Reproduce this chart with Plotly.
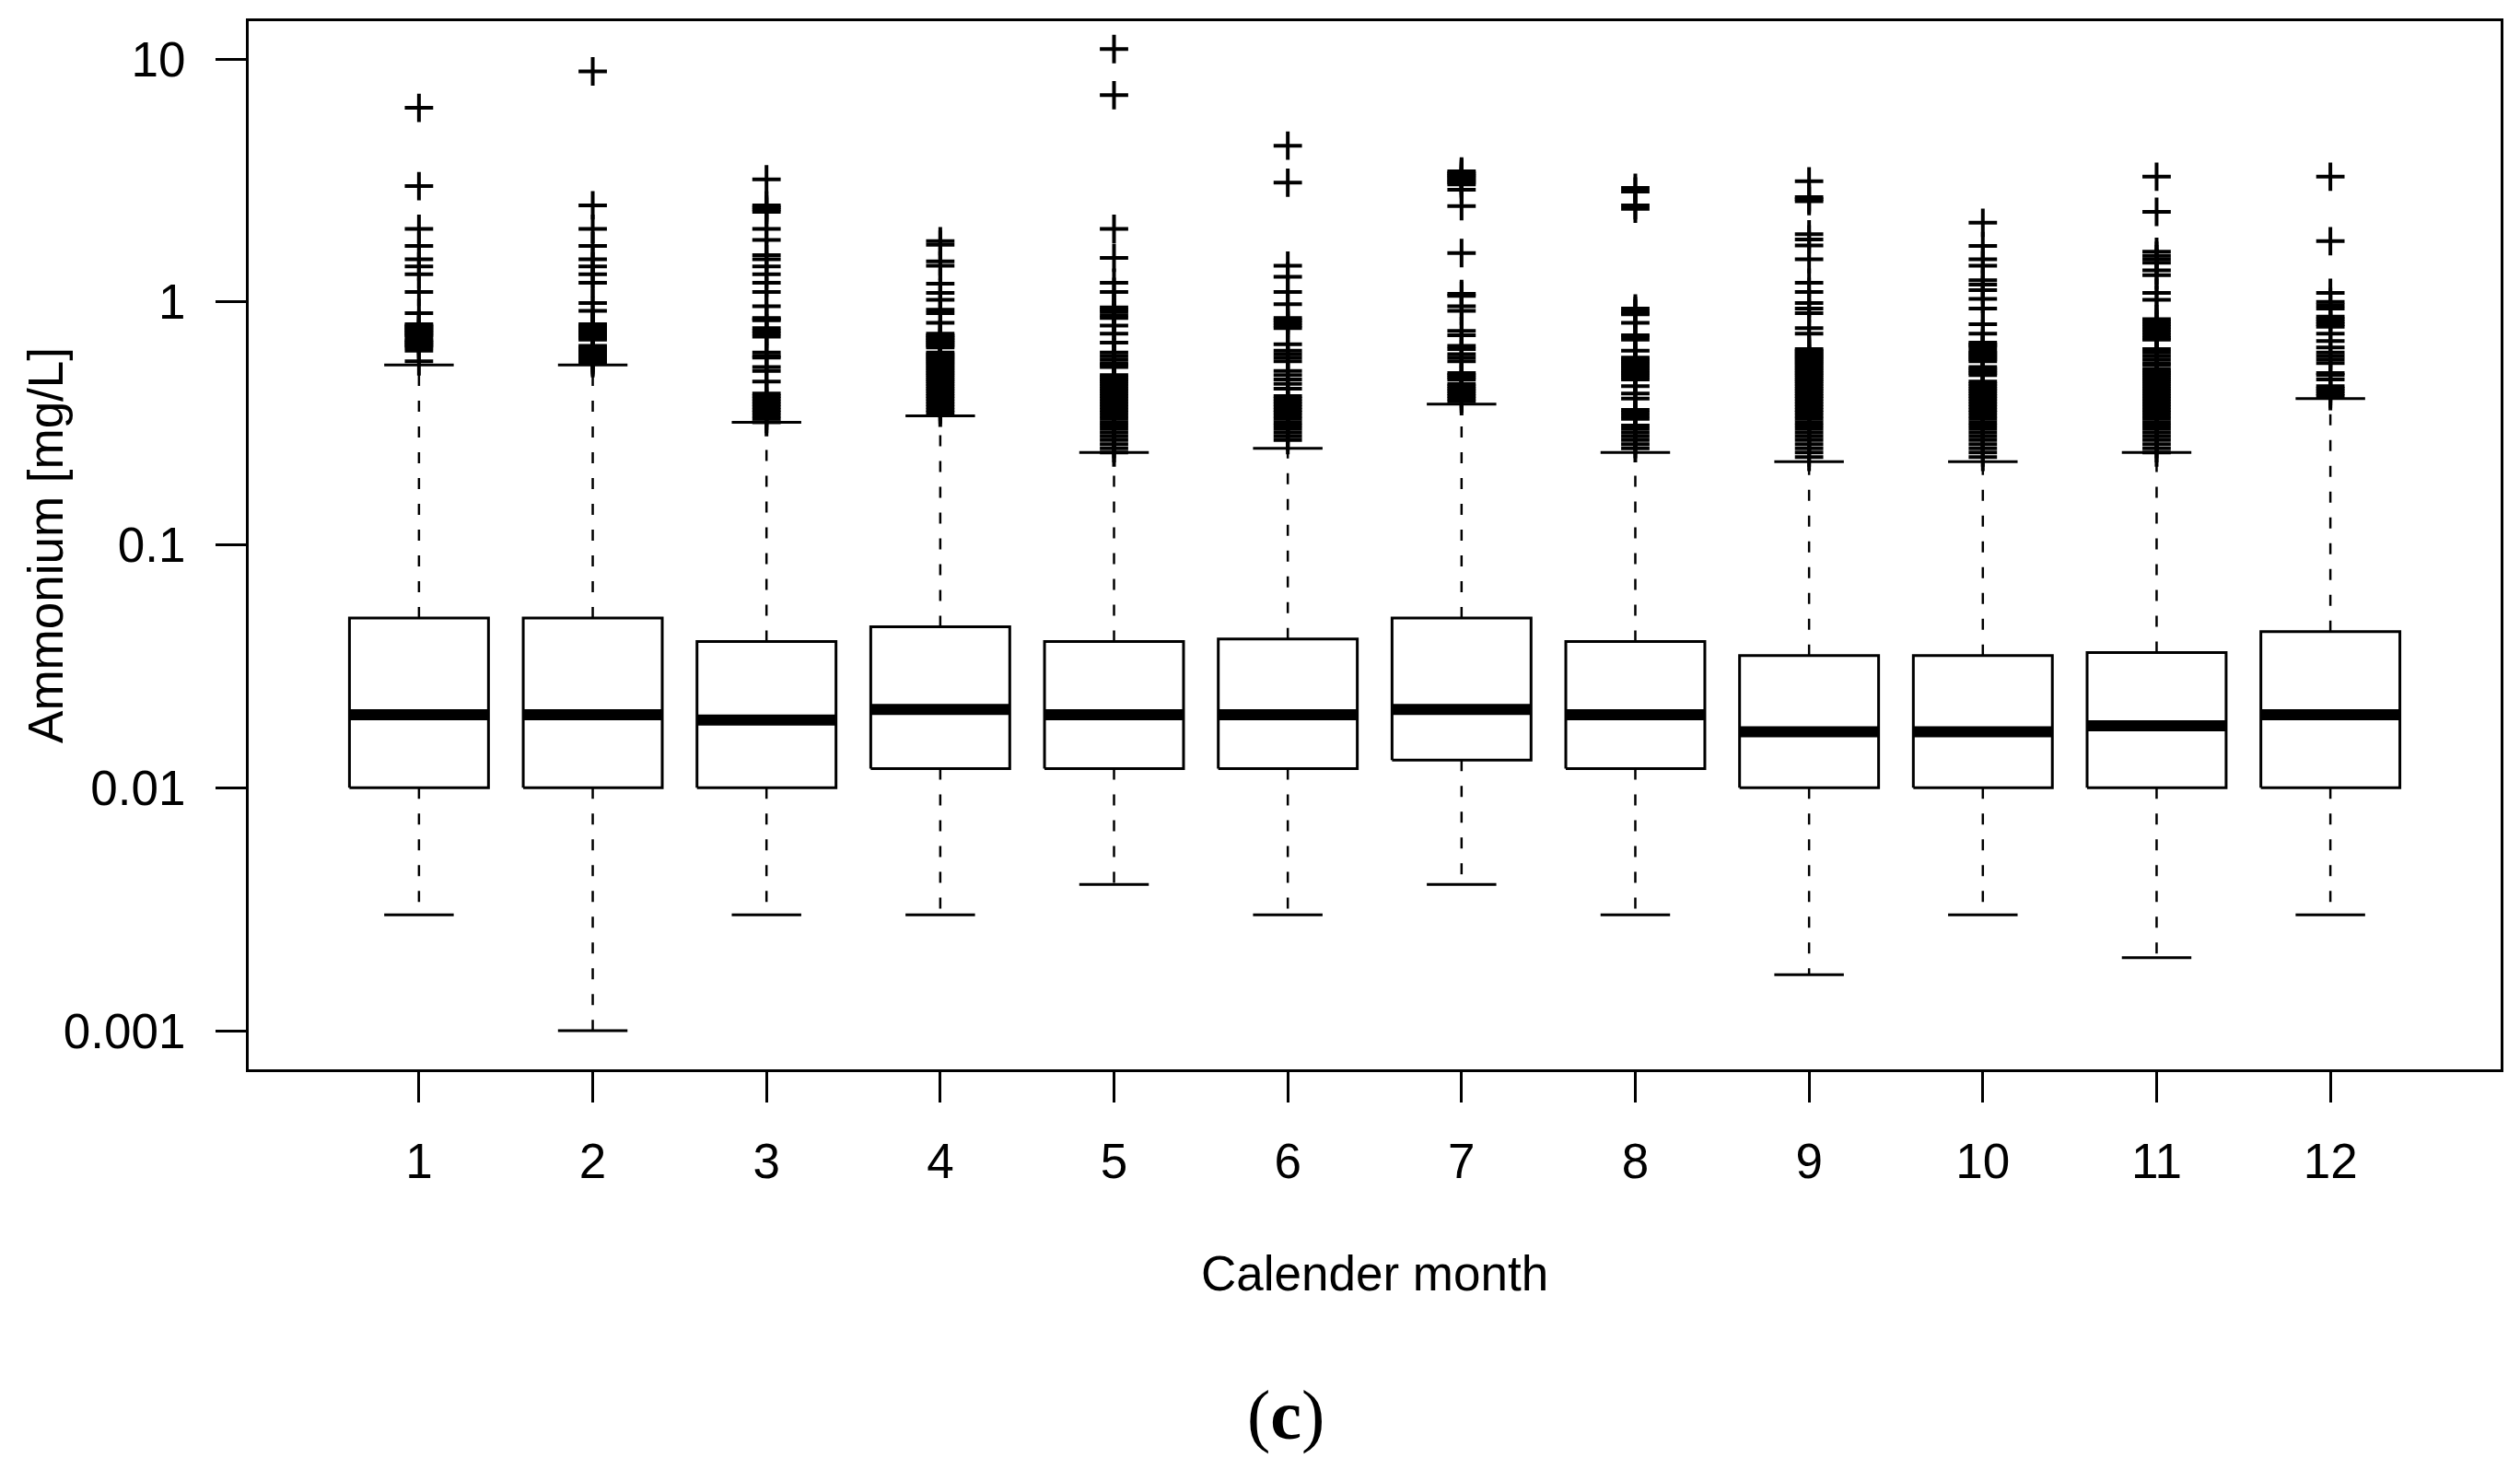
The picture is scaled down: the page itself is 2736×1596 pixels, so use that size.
import plotly.graph_objects as go

# monthly box statistics (mg/L)
months = [1, 2, 3, 4, 5, 6, 7, 8, 9, 10, 11, 12]
q1 = [0.01, 0.01, 0.01, 0.012, 0.012, 0.012, 0.013, 0.012, 0.01, 0.01, 0.01, 0.01]
medians = [0.02, 0.02, 0.019, 0.021, 0.02, 0.02, 0.021, 0.02, 0.017, 0.017, 0.018, 0.02]
q3 = [0.05, 0.05, 0.04, 0.046, 0.04, 0.041, 0.05, 0.04, 0.035, 0.035, 0.036, 0.044]
lower_whisker = [0.003, 0.001, 0.003, 0.003, 0.004, 0.003, 0.004, 0.003, 0.0017, 0.003, 0.002, 0.003]
upper_whisker = [0.55, 0.55, 0.32, 0.34, 0.24, 0.25, 0.38, 0.24, 0.22, 0.22, 0.24, 0.40]

# outliers per month
out_m1 = [6.3, 3.0, 2.0, 1.7, 1.5, 1.4, 1.3, 1.1, 0.9, 0.81, 0.8, 0.79, 0.78, 0.77, 0.76, 0.75,
          0.74, 0.73, 0.72, 0.7, 0.69, 0.68, 0.67, 0.66, 0.65, 0.63, 0.57]
out_m2 = [8.9, 2.5, 2.0, 1.7, 1.5, 1.4, 1.3, 1.2, 0.99, 0.92, 0.81, 0.8, 0.79, 0.78, 0.77, 0.76,
          0.75, 0.74, 0.73, 0.72, 0.71, 0.7, 0.66, 0.65, 0.64, 0.63, 0.62, 0.61, 0.6, 0.59, 0.58,
          0.57, 0.56]
out_m3 = [3.2, 2.5, 2.45, 2.4, 2.35, 2.0, 1.8, 1.56, 1.5, 1.4, 1.3, 1.2, 1.1, 0.96, 0.86, 0.85,
          0.84, 0.78, 0.76, 0.74, 0.72, 0.62, 0.6, 0.59, 0.54, 0.52, 0.47, 0.42, 0.41, 0.4, 0.39,
          0.38, 0.37, 0.36, 0.35, 0.34, 0.33, 0.32]
out_m4 = [1.78, 1.72, 1.47, 1.41, 1.19, 1.09, 1.02, 0.93, 0.9, 0.82, 0.74, 0.73, 0.72, 0.71, 0.7,
          0.69, 0.68, 0.67, 0.66, 0.65, 0.62, 0.61, 0.6, 0.59, 0.58, 0.57, 0.56, 0.55, 0.54, 0.53,
          0.52, 0.51, 0.5, 0.49, 0.48, 0.47, 0.46, 0.45, 0.44, 0.43, 0.42, 0.41, 0.4, 0.39, 0.38,
          0.37, 0.36, 0.35]
out_m5 = [11.0, 7.1, 2.0, 1.52, 1.2, 1.1, 0.95, 0.93, 0.91, 0.88, 0.86, 0.8, 0.74, 0.68, 0.62,
          0.6, 0.58, 0.56, 0.55, 0.54, 0.5, 0.49, 0.48, 0.47, 0.46, 0.45, 0.44, 0.43, 0.42, 0.41,
          0.4, 0.39, 0.38, 0.37, 0.36, 0.35, 0.34, 0.33, 0.32, 0.31, 0.3, 0.29, 0.28, 0.27, 0.26,
          0.25, 0.24]
out_m6 = [4.4, 3.1, 1.41, 1.27, 1.1, 0.98, 0.86, 0.84, 0.82, 0.8, 0.78, 0.67, 0.63, 0.61, 0.59,
          0.57, 0.52, 0.5, 0.48, 0.46, 0.44, 0.41, 0.4, 0.39, 0.38, 0.37, 0.36, 0.35, 0.34, 0.33,
          0.32, 0.31, 0.3, 0.29, 0.28, 0.27]
out_m7 = [3.45, 3.4, 3.35, 3.3, 3.25, 3.2, 3.15, 3.1, 3.05, 2.9, 2.48, 1.59, 1.08, 1.06, 0.96,
          0.92, 0.76, 0.73, 0.66, 0.64, 0.61, 0.59, 0.57, 0.51, 0.5, 0.49, 0.48, 0.46, 0.45, 0.44,
          0.43, 0.42, 0.41, 0.4, 0.39]
out_m8 = [2.95, 2.85, 2.5, 2.42, 0.94, 0.92, 0.9, 0.89, 0.82, 0.73, 0.72, 0.7, 0.63, 0.59, 0.58,
          0.57, 0.56, 0.55, 0.54, 0.53, 0.52, 0.51, 0.5, 0.49, 0.48, 0.45, 0.42, 0.4, 0.36, 0.35,
          0.34, 0.33, 0.31, 0.3, 0.29, 0.28, 0.27, 0.26, 0.25]
out_m9 = [3.14, 2.7, 2.65, 2.6, 1.9, 1.81, 1.71, 1.5, 1.2, 1.1, 0.99, 0.94, 0.9, 0.78, 0.74, 0.64,
          0.63, 0.62, 0.61, 0.6, 0.59, 0.58, 0.57, 0.56, 0.55, 0.54, 0.53, 0.52, 0.51, 0.5, 0.49,
          0.48, 0.47, 0.46, 0.45, 0.44, 0.43, 0.42, 0.41, 0.4, 0.39, 0.38, 0.37, 0.36, 0.35, 0.34,
          0.33, 0.32, 0.31, 0.3, 0.29, 0.28, 0.27, 0.26, 0.25, 0.24, 0.23]
out_m10 = [2.12, 1.7, 1.5, 1.41, 1.23, 1.18, 1.12, 1.03, 0.94, 0.81, 0.74, 0.68, 0.67, 0.66, 0.65,
           0.63, 0.62, 0.61, 0.6, 0.59, 0.58, 0.57, 0.54, 0.53, 0.52, 0.51, 0.5, 0.47, 0.46, 0.45,
           0.44, 0.43, 0.42, 0.41, 0.4, 0.39, 0.38, 0.37, 0.36, 0.35, 0.34, 0.33, 0.32, 0.31, 0.3,
           0.29, 0.28, 0.27, 0.26, 0.25, 0.24, 0.23]
out_m11 = [3.28, 2.35, 1.61, 1.55, 1.5, 1.45, 1.35, 1.29, 1.09, 1.02, 0.85, 0.83, 0.81, 0.79, 0.77,
           0.75, 0.73, 0.71, 0.7, 0.64, 0.62, 0.6, 0.58, 0.56, 0.55, 0.53, 0.52, 0.51, 0.5, 0.49,
           0.48, 0.47, 0.46, 0.45, 0.44, 0.43, 0.42, 0.41, 0.4, 0.39, 0.38, 0.37, 0.36, 0.35, 0.34,
           0.33, 0.32, 0.31, 0.3, 0.29, 0.28, 0.27, 0.26, 0.25, 0.24]
out_m12 = [3.28, 1.78, 1.09, 1.0, 0.97, 0.94, 0.87, 0.85, 0.83, 0.81, 0.79, 0.74, 0.69, 0.65, 0.62,
           0.6, 0.58, 0.56, 0.51, 0.5, 0.48, 0.45, 0.44, 0.43, 0.42, 0.41]
outliers = [out_m1, out_m2, out_m3, out_m4, out_m5, out_m6,
            out_m7, out_m8, out_m9, out_m10, out_m11, out_m12]

y_tickvals = [0.001, 0.01, 0.1, 1, 10]
y_ticktext = ["0.001", "0.01", "0.1", "1", "10"]

BOX_HALF = 0.4
CAP_HALF = 0.2
FONT = "Liberation Sans, Arial, sans-serif"
FS = 53


def segs(items):
    xs, ys = [], []
    for x0, y0, x1, y1 in items:
        xs += [x0, x1, None]
        ys += [y0, y1, None]
    return xs, ys


fig = go.Figure()

# dashed whiskers
wx, wy = segs([(m, a, m, b) for m, a, b in zip(months, q3, upper_whisker)] +
              [(m, a, m, b) for m, a, b in zip(months, q1, lower_whisker)])
fig.add_trace(go.Scatter(x=wx, y=wy, mode="lines",
                         line=dict(color="black", width=2.5, dash="12px,16px")))

# whisker caps
cx, cy = segs([(m - CAP_HALF, v, m + CAP_HALF, v) for m, v in zip(months, upper_whisker)] +
              [(m - CAP_HALF, v, m + CAP_HALF, v) for m, v in zip(months, lower_whisker)])
fig.add_trace(go.Scatter(x=cx, y=cy, mode="lines", line=dict(color="black", width=3)))

# boxes
bx, by = [], []
for m, lo, hi in zip(months, q1, q3):
    bx += [m - BOX_HALF, m + BOX_HALF, m + BOX_HALF, m - BOX_HALF, m - BOX_HALF, None]
    by += [lo, lo, hi, hi, lo, None]
fig.add_trace(go.Scatter(x=bx, y=by, mode="lines", fill="toself", fillcolor="white",
                         line=dict(color="black", width=3)))

# medians
mx, my = segs([(m - BOX_HALF, v, m + BOX_HALF, v) for m, v in zip(months, medians)])
fig.add_trace(go.Scatter(x=mx, y=my, mode="lines", line=dict(color="black", width=12)))

# outliers
ox, oy = [], []
for m, vals in zip(months, outliers):
    ox += [m] * len(vals)
    oy += vals
fig.add_trace(go.Scatter(x=ox, y=oy, mode="markers",
                         marker=dict(symbol="cross-thin", size=22, color="black",
                                     line=dict(color="black", width=4))))

# page body adds an 8px offset, so the figure is trimmed by that much
fig.update_layout(
    width=2728, height=1588,
    margin=dict(l=262, r=21, t=13, b=435),
    paper_bgcolor="white", plot_bgcolor="white",
    showlegend=False,
    font=dict(family=FONT, size=FS, color="black"),
)
fig.update_xaxes(
    range=[0.02, 12.98], tickvals=months, ticktext=[str(m) for m in months],
    ticks="outside", ticklen=33, tickwidth=2.5, tickcolor="black",
    ticklabelstandoff=18,
    showline=True, linecolor="black", linewidth=3, mirror=True,
    showgrid=False, zeroline=False,
    tickfont=dict(family=FONT, size=FS),
)
fig.update_yaxes(
    type="log", range=[-3.159, 1.156], tickvals=y_tickvals, ticktext=y_ticktext,
    ticks="outside", ticklen=33, tickwidth=2.5, tickcolor="black",
    ticklabelstandoff=22,
    showline=True, linecolor="black", linewidth=3, mirror=True,
    showgrid=False, zeroline=False,
    tickfont=dict(family=FONT, size=FS),
)

fig.add_annotation(text="Ammonium [mg/L]", xref="paper", yref="paper",
                   x=-0.0904, y=0.5, textangle=-90, showarrow=False,
                   xanchor="center", yanchor="middle",
                   font=dict(family=FONT, size=FS, color="black"))
fig.add_annotation(text="Calender month", xref="paper", yref="paper",
                   x=0.5, y=-0.1947, showarrow=False,
                   xanchor="center", yanchor="middle",
                   font=dict(family=FONT, size=FS, color="black"))
fig.add_annotation(text="(<b>c</b>)", xref="paper", yref="paper",
                   x=0.4605, y=-0.3298, showarrow=False,
                   xanchor="center", yanchor="middle",
                   font=dict(family="Liberation Serif, Times New Roman, serif", size=76, color="black"))

fig.write_html("out.html")
